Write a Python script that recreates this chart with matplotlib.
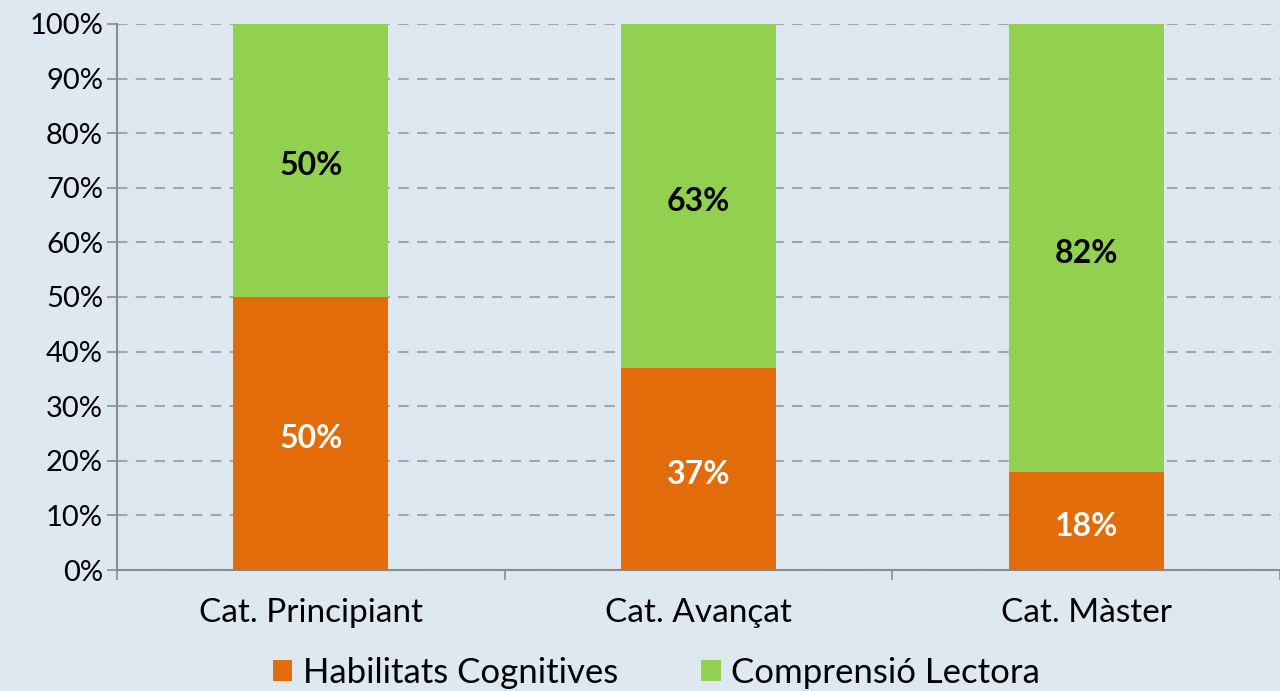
import numpy as np
import matplotlib.pyplot as plt
from matplotlib.ticker import PercentFormatter

categories = ["Cat. Principiant", "Cat. Avançat", "Cat. Màster"]
habilitats = [50, 37, 18]
comprensio = [50, 63, 82]
series_names = ["Habilitats Cognitives", "Comprensió Lectora"]

bg = "#DEE8F1"
orange = "#E36C0A"
green = "#92D050"

plt.rcParams["font.family"] = ["Lato", "DejaVu Sans"]

fig = plt.figure(figsize=(12.8, 6.91), dpi=100, facecolor=bg)
ax = fig.add_axes([0.0914, 0.1751, 0.9086, 0.7902], facecolor=bg)

x = np.arange(len(categories))
b1 = ax.bar(x, habilitats, width=0.4, color=orange, label=series_names[0], zorder=3)
b2 = ax.bar(x, comprensio, width=0.4, bottom=habilitats, color=green,
            label=series_names[1], zorder=3)

# segment labels, a touch below centre like the original
for i in range(len(categories)):
    ax.text(x[i], habilitats[i] / 2 - 1, f"{habilitats[i]}%", ha="center", va="center",
            color="white", fontsize=23, fontweight="bold", zorder=4)
    ax.text(x[i], habilitats[i] + comprensio[i] / 2 - 1, f"{comprensio[i]}%", ha="center",
            va="center", color="black", fontsize=23, fontweight="bold", zorder=4)

ax.set_xlim(-0.5, len(categories) - 0.5)
ax.set_ylim(0, 100)
ax.set_yticks(np.arange(0, 101, 10))
ax.yaxis.set_major_formatter(PercentFormatter(decimals=0))
ax.yaxis.grid(True, color="#A6A6A6", linestyle=(0, (5, 4)), linewidth=1.5, zorder=0)

ax.set_xticks(x)
ax.set_xticklabels(categories)
ax.set_xticks(np.arange(-0.5, len(categories), 1), minor=True)
ax.tick_params(axis="x", which="major", length=0, pad=20, labelsize=24)
ax.tick_params(axis="x", which="minor", length=7, color="#8C8C8C", width=1.2)
ax.tick_params(axis="y", length=7, color="#8C8C8C", width=1.2, labelsize=21, pad=3)

for s in ["top", "right"]:
    ax.spines[s].set_visible(False)
for s in ["left", "bottom"]:
    ax.spines[s].set_color("#8C8C8C")
    ax.spines[s].set_linewidth(1.5)

leg = fig.legend(handles=[b1, b2], loc="lower center", bbox_to_anchor=(0.513, -0.042),
                 ncol=2, frameon=False, fontsize=25, handlelength=0.55, handleheight=0.55,
                 handletextpad=0.3, columnspacing=2.4)

fig.savefig("out.png", dpi=100, facecolor=bg)
